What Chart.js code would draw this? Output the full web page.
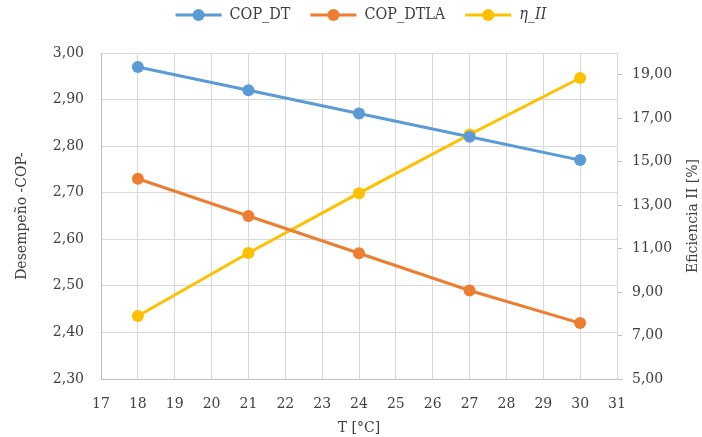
<!DOCTYPE html>
<html>
<head>
<meta charset="utf-8">
<script src="https://cdn.jsdelivr.net/npm/chart.js@4/dist/chart.umd.min.js"></script>
<style>
  html, body { margin: 0; padding: 0; background: #fff; }
  #wrap { width: 702px; height: 437px; }
</style>
</head>
<body>
<div id="wrap"><canvas id="ch"></canvas></div>
<script>
// data
const temps     = [18, 21, 24, 27, 30];
const copDT     = [2.97, 2.92, 2.87, 2.82, 2.77];
const copDTLA   = [2.73, 2.65, 2.57, 2.49, 2.42];
const etaII     = [7.9, 10.8, 13.55, 16.25, 18.85];
const seriesNames = ['COP_DT', 'COP_DTLA', 'η_II'];
const rightTicks  = [5, 7, 9, 11, 13, 15, 17, 19];
const COLORS = ['#5B9BD5', '#ED7D31', '#FFC000'];

const SERIF = "'DejaVu Serif', serif";
const LEGEND_FONT = "'DejaVu Serif Condensed', 'DejaVu Serif', serif";
const TXT = '#404040';
const GRID = '#d9d9d9';

function pts(ys) { return temps.map((t, i) => ({ x: t, y: ys[i] })); }
function comma(v) { return v.toFixed(2).replace('.', ','); }

function series(i, ys, axis) {
  return {
    label: seriesNames[i],
    data: pts(ys),
    yAxisID: axis,
    borderColor: COLORS[i],
    backgroundColor: COLORS[i],
    borderWidth: 3,
    pointRadius: 6,
    pointHoverRadius: 6,
    pointBorderWidth: 0,
    tension: 0
  };
}

// fixed legend height + circle markers + italic eta + right-axis title
const layoutFix = {
  id: 'layoutFix',
  afterInit(chart) {
    const lg = chart.legend;
    const orig = lg.fit.bind(lg);
    lg.fit = function () { orig(); this.height = 53; };
  },
  afterLayout(chart) {
    const lg = chart.legend;
    lg.top -= 13;
    lg.left += 10;
    lg.right += 10;
  },
  afterDraw(chart) {
    const ctx = chart.ctx;
    const lg = chart.legend;
    const bw = lg.options.labels.boxWidth;
    lg.legendHitBoxes.forEach((hb, i) => {
      ctx.save();
      ctx.fillStyle = COLORS[i];
      ctx.beginPath();
      ctx.arc(hb.left + bw / 2, hb.top + hb.height / 2, 6, 0, Math.PI * 2);
      ctx.fill();
      if (i === 2) {
        ctx.fillStyle = TXT;
        ctx.font = "italic 16px " + LEGEND_FONT;
        ctx.textBaseline = 'middle';
        ctx.textAlign = 'left';
        ctx.fillText(seriesNames[2], hb.left + bw + 8, hb.top + hb.height / 2);
      }
      ctx.restore();
    });
    const a = chart.chartArea;
    ctx.save();
    ctx.translate(693, (a.top + a.bottom) / 2);
    ctx.rotate(-Math.PI / 2);
    ctx.fillStyle = TXT;
    ctx.font = "14px " + SERIF;
    ctx.textAlign = 'center';
    ctx.textBaseline = 'middle';
    ctx.fillText('Eficiencia II [%]', 0, 0);
    ctx.restore();
  }
};

new Chart(document.getElementById('ch').getContext('2d'), {
  type: 'line',
  data: {
    datasets: [
      series(0, copDT, 'y'),
      series(1, copDTLA, 'y'),
      series(2, etaII, 'y1')
    ]
  },
  options: {
    responsive: true,
    maintainAspectRatio: false,
    animation: false,
    layout: { padding: 0 },
    plugins: {
      tooltip: { enabled: false },
      legend: {
        position: 'top',
        labels: {
          boxWidth: 46,
          boxHeight: 3,
          padding: 20,
          color: TXT,
          font: { family: LEGEND_FONT, size: 16, lineHeight: 1 },
          generateLabels(chart) {
            return chart.data.datasets.map((d, i) => ({
              text: d.label,
              fillStyle: COLORS[i],
              strokeStyle: COLORS[i],
              lineWidth: 0,
              fontColor: i === 2 ? 'rgba(0,0,0,0)' : TXT,
              datasetIndex: i
            }));
          }
        }
      }
    },
    scales: {
      x: {
        type: 'linear',
        min: 17, max: 31,
        afterFit(s) { s.height = 58; },
        ticks: { stepSize: 1, color: TXT, padding: 17, font: { family: SERIF, size: 14 } },
        grid: { color: GRID, drawTicks: false },
        border: { color: '#bfbfbf' },
        title: { display: true, text: 'T [°C]', color: TXT, padding: 0, font: { family: SERIF, size: 14 } }
      },
      y: {
        position: 'left',
        min: 2.3, max: 3.0,
        afterFit(s) { s.width = 101; },
        ticks: { stepSize: 0.1, color: TXT, padding: 17, font: { family: SERIF, size: 14 }, callback: v => comma(v) },
        grid: { color: GRID, drawTicks: false },
        border: { color: '#bfbfbf' },
        title: { display: true, text: 'Desempeño -COP-', color: TXT, padding: { top: 14, bottom: 4 }, font: { family: SERIF, size: 14 } }
      },
      y1: {
        position: 'right',
        min: 5, max: 20,
        afterFit(s) { s.width = 85; },
        afterBuildTicks(s) { s.ticks = rightTicks.map(v => ({ value: v })); },
        ticks: { color: TXT, padding: 10, font: { family: SERIF, size: 14 }, callback: v => comma(v) },
        grid: { drawOnChartArea: false, color: '#bfbfbf', tickLength: 5 },
        border: { color: GRID }
      }
    }
  },
  plugins: [layoutFix]
});
</script>
</body>
</html>
